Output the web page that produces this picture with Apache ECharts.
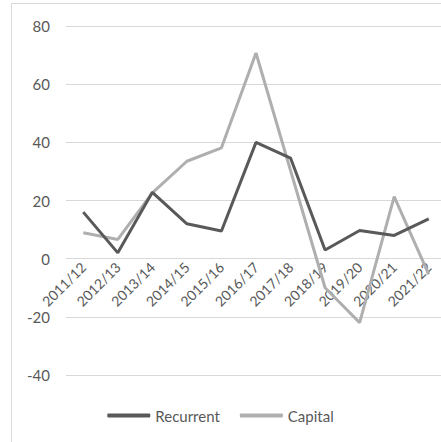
<!DOCTYPE html>
<html>
<head>
<meta charset="utf-8">
<script src="https://cdn.jsdelivr.net/npm/echarts@6/dist/echarts.min.js"></script>
<style>
  html, body { margin: 0; padding: 0; background: #fff; }
  #main { width: 441px; height: 442px; }
</style>
</head>
<body>
<div id="main"></div>
<script>
// categories
var years = ['2011/12', '2012/13', '2013/14', '2014/15', '2015/16', '2016/17',
  '2017/18', '2018/19', '2019/20', '2020/21', '2021/22'];
// series values
var recurrent = [16, 2, 22.8, 12, 9.5, 40, 34.6, 3, 9.7, 8, 13.7];
var capital = [8.9, 6.6, 22.6, 33.5, 38.1, 70.7, 30.3, -10, -22, 21.3, -5.4];
// y ticks
var yMin = -40, yMax = 80, yStep = 20;
var yTicks = [-40, -20, 0, 20, 40, 60, 80];

var gridTop = 26, gridBottom = 67, H = 442;
var gridHeight = H - gridTop - gridBottom;
// move the category labels up to the zero line
var zeroOffset = -gridHeight * (0 - yMin) / (yMax - yMin);

var chart = echarts.init(document.getElementById('main'), null, { renderer: 'svg' });
chart.setOption({
  animation: false,
  textStyle: { fontFamily: 'Lato' },
  graphic: [{
    type: 'rect',
    z: -10,
    shape: { x: 11.5, y: 3.5, width: 500, height: 500 },
    style: { fill: 'transparent', stroke: '#d9d9d9', lineWidth: 1 },
    silent: true
  }],
  grid: { left: 66, top: gridTop, right: -5, bottom: gridBottom, outerBoundsMode: 'none' },
  legend: {
    bottom: 14,
    left: 'center',
    itemWidth: 43,
    itemHeight: 4,
    itemGap: 20,
    icon: 'roundRect',
    textStyle: { color: '#595959', fontSize: 15, fontFamily: 'Lato' },
    data: ['Recurrent', 'Capital']
  },
  xAxis: {
    type: 'category',
    data: years,
    boundaryGap: true,
    position: 'bottom',
    offset: zeroOffset,
    axisLine: { show: false },
    axisTick: { show: false },
    axisLabel: { rotate: 45, color: '#595959', fontSize: 14, margin: 6, interval: 0 }
  },
  yAxis: {
    type: 'value',
    min: yMin, max: yMax, interval: yStep,
    axisLine: { show: false },
    axisTick: { show: false },
    splitLine: { show: false },
    axisLabel: { color: '#595959', fontSize: 15, margin: 16 }
  },
  series: [{
    name: 'Recurrent',
    type: 'line',
    data: recurrent,
    symbol: 'none',
    z: 3,
    lineStyle: { color: '#595959', width: 3 },
    itemStyle: { color: '#595959' },
    // gridlines drawn through the y scale
    markLine: {
      silent: true,
      symbol: 'none',
      z: 1,
      label: { show: false },
      lineStyle: { color: '#d9d9d9', width: 1, type: 'solid' },
      emphasis: { disabled: true },
      data: yTicks.map(function (v) { return { yAxis: v }; })
    }
  }, {
    name: 'Capital',
    type: 'line',
    data: capital,
    symbol: 'none',
    z: 2,
    lineStyle: { color: '#afafaf', width: 3 },
    itemStyle: { color: '#afafaf' }
  }]
});
</script>
</body>
</html>
